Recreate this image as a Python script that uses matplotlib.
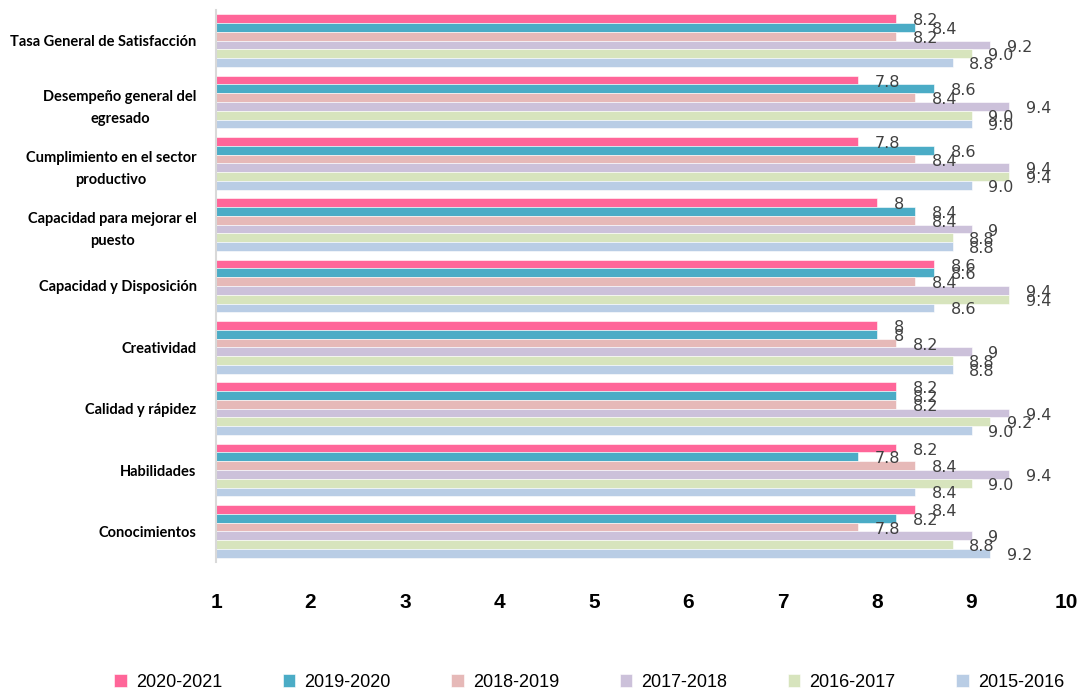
import matplotlib
matplotlib.use("Agg")
import matplotlib.pyplot as plt
import numpy as np

categories = [
    "Tasa General de Satisfacción",
    "Desempeño general del\negresado",
    "Cumplimiento en el sector\nproductivo",
    "Capacidad para mejorar el\npuesto",
    "Capacidad y Disposición",
    "Creatividad",
    "Calidad y rápidez",
    "Habilidades",
    "Conocimientos",
]
series_names = ["2020-2021", "2019-2020", "2018-2019", "2017-2018", "2016-2017", "2015-2016"]
v2020_2021 = [8.2, 7.8, 7.8, 8.0, 8.6, 8.0, 8.2, 8.2, 8.4]
v2019_2020 = [8.4, 8.6, 8.6, 8.4, 8.6, 8.0, 8.2, 7.8, 8.2]
v2018_2019 = [8.2, 8.4, 8.4, 8.4, 8.4, 8.2, 8.2, 8.4, 7.8]
v2017_2018 = [9.2, 9.4, 9.4, 9.0, 9.4, 9.0, 9.4, 9.4, 9.0]
v2016_2017 = [9.0, 9.0, 9.4, 8.8, 9.4, 8.8, 9.2, 9.0, 8.8]
v2015_2016 = [8.8, 9.0, 9.0, 8.8, 8.6, 8.8, 9.0, 8.4, 9.2]
series_values = [v2020_2021, v2019_2020, v2018_2019, v2017_2018, v2016_2017, v2015_2016]
label_formats = ["{:g}", "{:g}", "{:g}", "{:g}", "{:.1f}", "{:.1f}"]
colors = ["#FF6699", "#4BACC6", "#E6B9B8", "#CCC1DA", "#D7E4BD", "#B9CDE5"]
xticks = [1, 2, 3, 4, 5, 6, 7, 8, 9, 10]

fig = plt.figure(figsize=(10.81, 6.92), dpi=100)
ax = fig.add_axes([216 / 1081, 1 - 562 / 692, (1066 - 216) / 1081, (562 - 10) / 692])

n = len(series_names)
bh = 1.0 / 7.0
centers = np.arange(len(categories))
for i, (name, vals, col, fmt) in enumerate(zip(series_names, series_values, colors, label_formats)):
    y = centers + (i - (n - 1) / 2) * bh
    ax.barh(y, np.array(vals) - 1, left=1, height=bh, color=col, edgecolor="white",
            linewidth=0.4, label=name)
    for yy, v in zip(y, vals):
        ax.annotate(fmt.format(v), xy=(v, yy), xytext=(12, -1.5), textcoords="offset points",
                    ha="left", va="center", fontsize=11.5, color="#404040",
                    family="DejaVu Sans")

ax.set_ylim(len(categories) - 0.5, -0.5)
ax.set_xlim(1, 10)
ax.set_yticks(centers)
ax.set_yticklabels(categories, fontsize=10.5, fontweight="bold", family="Lato",
                   multialignment="center", linespacing=1.75)
ax.set_xticks(xticks)
ax.set_xticklabels([str(t) for t in xticks], fontsize=15, fontweight="bold",
                   family="Liberation Sans")
ax.tick_params(axis="both", length=0)
ax.tick_params(axis="x", pad=22)
ax.tick_params(axis="y", pad=14)
for s in ["top", "right", "bottom"]:
    ax.spines[s].set_visible(False)
ax.spines["left"].set_color("#D9D9D9")
ax.spines["left"].set_linewidth(1.5)

leg = fig.legend(loc="lower center", bbox_to_anchor=(0.545, -0.022), ncol=6, frameon=False,
                 prop={"family": "Liberation Sans", "size": 13}, handlelength=0.7,
                 handleheight=0.7, handletextpad=0.5, columnspacing=3.35)

fig.savefig("out.png", dpi=100)
